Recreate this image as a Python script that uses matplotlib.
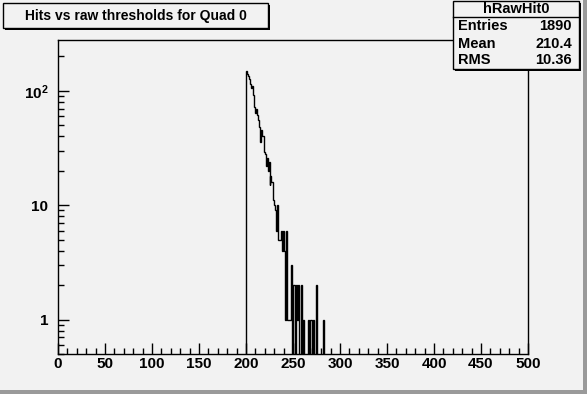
import matplotlib.pyplot as plt
import numpy as np
from matplotlib.patches import Rectangle
from matplotlib.lines import Line2D
from matplotlib.ticker import MultipleLocator, LogLocator, NullFormatter

plt.rcParams['font.family'] = ['Liberation Sans', 'DejaVu Sans']
plt.rcParams['font.weight'] = 'bold'
plt.rcParams['mathtext.fontset'] = 'custom'
plt.rcParams['mathtext.rm'] = 'Liberation Sans:bold'
plt.rcParams['mathtext.default'] = 'rm'

# histogram contents, one entry per unit-wide bin starting at first_bin
first_bin = 200
counts = np.array([
    149, 140, 135, 126, 115, 106, 110, 92, 78, 72,    # 200-209
    64, 70, 62, 55, 48, 36, 45, 40, 40, 29,           # 210-219
    28, 22, 26, 20, 24, 15, 18, 16, 16, 11,           # 220-229
    10, 9, 6, 10, 5, 5, 5, 6, 4, 6,                   # 230-239
    4, 3, 1, 6, 1, 1, 1, 1, 3, 0,                     # 240-249
    2, 2, 0, 2, 1, 2, 0, 0, 2, 2,                     # 250-259
    0, 1, 0, 0, 0, 0, 1, 0, 1, 1,                     # 260-269
    0, 1, 0, 0, 2, 0, 0, 0, 0, 0,                     # 270-279
    0, 0, 1,                                          # 280-282
])
edges = np.arange(first_bin, first_bin + len(counts) + 1)

title = "Hits vs raw thresholds for Quad 0"
stats_name = "hRawHit0"
stats_labels = ["Entries", "Mean", "RMS"]
stats_values = ["1890", "210.4", "10.36"]

W, H = 587, 394
BG = '#f2f2f2'

fig = plt.figure(figsize=(W / 100, H / 100), dpi=100, facecolor=BG)


def fig_rect(x0, y0, x1, y1, **kw):
    """Rectangle given in pixel coords (origin top-left)."""
    r = Rectangle((x0 / W, 1 - y1 / H), (x1 - x0) / W, (y1 - y0) / H,
                  transform=fig.transFigure, **kw)
    fig.add_artist(r)
    return r


def fig_text(x, y, s, **kw):
    fig.text(x / W, 1 - y / H, s, **kw)


# canvas bevel on the right and bottom
fig_rect(583, 0, W, H, facecolor='#9a9a9a', edgecolor='none')
fig_rect(0, 390, W, H, facecolor='#9a9a9a', edgecolor='none')

ax = fig.add_axes([58 / W, 1 - 354 / H, 470 / W, 314 / H], facecolor=BG)

plot_counts = np.where(counts > 0, counts, 1e-3)
ax.stairs(plot_counts, edges, baseline=1e-3, color='black', linewidth=1)

ax.set_yscale('log')
ax.set_xlim(0, 500)
ax.set_ylim(0.5, 278)

ax.xaxis.set_major_locator(MultipleLocator(50))
ax.xaxis.set_minor_locator(MultipleLocator(10))
ax.set_yticks([1, 10, 100], labels=['1', '10', '$10^{2}$'])
ax.yaxis.set_minor_locator(LogLocator(base=10, subs=np.arange(2, 10)))
ax.yaxis.set_minor_formatter(NullFormatter())

ax.tick_params(axis='both', which='both', direction='in', top=False, right=False,
               width=1, labelsize=11)
ax.tick_params(axis='both', which='major', length=8)
ax.tick_params(axis='both', which='minor', length=4)
ax.tick_params(axis='x', pad=2)
ax.tick_params(axis='y', pad=7)
for s in ax.spines.values():
    s.set_linewidth(1)

# title box with shadow
fig_rect(5, 5, 270, 30, facecolor='black', edgecolor='none')
fig_rect(3, 3, 268, 28, facecolor=BG, edgecolor='black', linewidth=1)
fig_text(136, 16, title, ha='center', va='center', fontsize=10, fontweight='bold')

# stats box with shadow
fig_rect(455, 3, 581, 71, facecolor='black', edgecolor='none')
fig_rect(453, 1, 579, 69, facecolor=BG, edgecolor='black', linewidth=1)
fig.add_artist(Line2D([453 / W, 579 / W], [1 - 17 / H, 1 - 17 / H],
                      transform=fig.transFigure, color='black', linewidth=1))
fig_text(516, 9, stats_name, ha='center', va='center', fontsize=10.5)
for i, (lab, val) in enumerate(zip(stats_labels, stats_values)):
    y = 26.5 + i * 17
    fig_text(458, y, lab, ha='left', va='center', fontsize=10.5)
    fig_text(572, y, val, ha='right', va='center', fontsize=10.5)

fig.savefig('out.png', dpi=100, facecolor=BG)
